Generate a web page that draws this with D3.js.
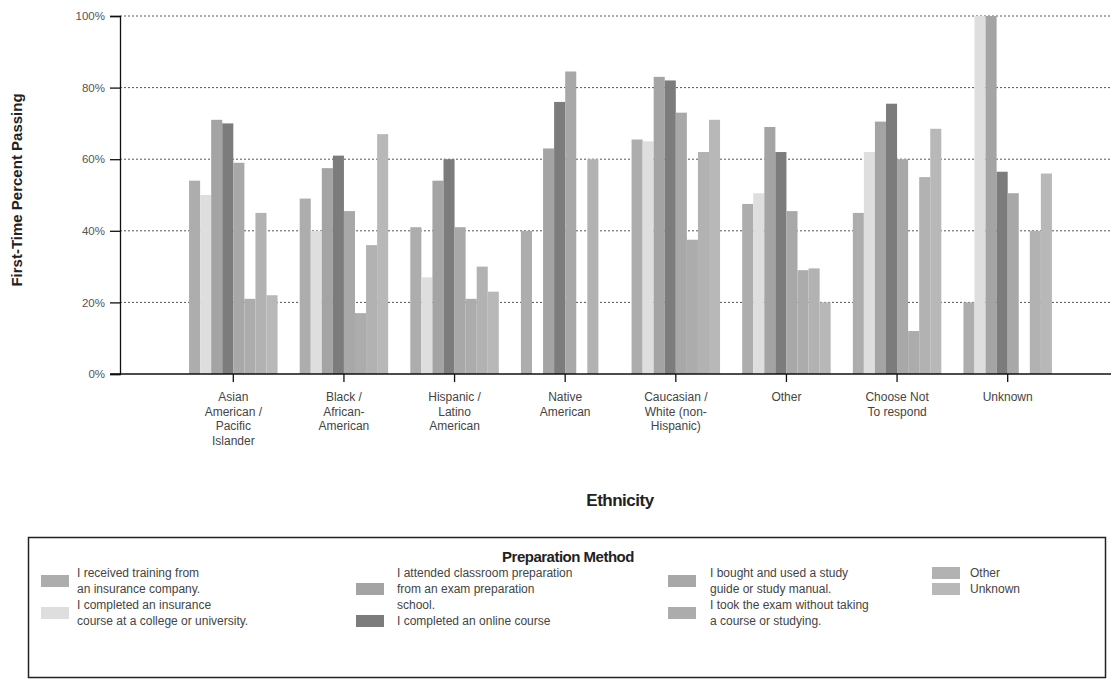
<!DOCTYPE html>
<html>
<head>
<meta charset="utf-8">
<script src="https://cdn.jsdelivr.net/npm/d3@7/dist/d3.min.js"></script>
<style>
  html, body { margin: 0; padding: 0; background: #fff; }
  svg { display: block; font-family: "Liberation Sans", Arial, sans-serif; }
</style>
</head>
<body>
<svg id="chart" width="1111" height="680"></svg>
<script>
// ---- data ----
const categories = [
  ["Asian", "American /", "Pacific", "Islander"],
  ["Black /", "African-", "American"],
  ["Hispanic /", "Latino", "American"],
  ["Native", "American"],
  ["Caucasian /", "White (non-", "Hispanic)"],
  ["Other"],
  ["Choose Not", "To respond"],
  ["Unknown"]
];
const seriesNames = [
  "I received training from an insurance company.",
  "I completed an insurance course at a college or university.",
  "I attended classroom preparation from an exam preparation school.",
  "I completed an online course",
  "I bought and used a study guide or study manual.",
  "I took the exam without taking a course or studying.",
  "Other",
  "Unknown"
];
const seriesTraining   = [54, 49, 41, 40, 65.5, 47.5, 45, 20];
const seriesCollege    = [50, 40, 27, 0, 65, 50.5, 62, 100];
const seriesClassroom  = [71, 57.5, 54, 63, 83, 69, 70.5, 100];
const seriesOnline     = [70, 61, 60, 76, 82, 62, 75.5, 56.5];
const seriesStudyGuide = [59, 45.5, 41, 84.5, 73, 45.5, 60, 50.5];
const seriesNoCourse   = [21, 17, 21, 0, 37.5, 29, 12, 0];
const seriesOther      = [45, 36, 30, 60, 62, 29.5, 55, 40];
const seriesUnknown    = [22, 67, 23, 0, 71, 20, 68.5, 56];
const yTicks = [0, 20, 40, 60, 80, 100];

const allSeries = [seriesTraining, seriesCollege, seriesClassroom, seriesOnline,
                   seriesStudyGuide, seriesNoCourse, seriesOther, seriesUnknown];
const colors = ["#adadad", "#dedede", "#a4a4a4", "#7c7c7c", "#a8a8a8", "#acacac", "#b2b2b2", "#b8b8b8"];

// ---- layout ----
const svg = d3.select("#chart");
const catKeys = categories.map(c => c.join(" "));
const x0 = d3.scaleBand().domain(catKeys).range([178, 1063]).paddingInner(0.2).paddingOuter(0.1);
const x1 = d3.scaleBand().domain(d3.range(allSeries.length)).range([0, x0.bandwidth()]);
const y = d3.scaleLinear().domain([0, 100]).range([374, 16]);
const plotLeft = 120, plotRight = 1111;

// gridlines
svg.append("g").selectAll("line").data(yTicks.filter(d => d > 0)).join("line")
  .attr("x1", plotLeft).attr("x2", plotRight)
  .attr("y1", d => y(d)).attr("y2", d => y(d))
  .attr("stroke", "#555").attr("stroke-width", 1).attr("stroke-dasharray", "2,2");

// bars
const groups = svg.append("g").selectAll("g").data(catKeys).join("g")
  .attr("transform", d => `translate(${x0(d)},0)`);
groups.selectAll("rect")
  .data((d, ci) => allSeries.map((s, si) => ({ si, v: s[ci] })))
  .join("rect")
  .attr("x", d => x1(d.si))
  .attr("width", x1.bandwidth())
  .attr("y", d => y(d.v))
  .attr("height", d => y(0) - y(d.v))
  .attr("fill", d => colors[d.si]);

// y axis
const yAxis = d3.axisLeft(y).tickValues(yTicks).tickFormat(d => d + "%").tickSize(10).tickPadding(5);
const yg = svg.append("g").attr("transform", `translate(${plotLeft},0)`).call(yAxis);
yg.select(".domain").attr("stroke", "#111").attr("stroke-width", 1.3);
yg.selectAll(".tick line").attr("stroke", "#111").attr("stroke-width", 1.3);
yg.selectAll(".tick text").attr("fill", "#555").attr("font-size", 11.5).attr("font-family", "Liberation Sans, Arial, sans-serif");

// x axis
const xg = svg.append("g");
xg.append("line").attr("x1", 110).attr("x2", plotRight).attr("y1", y(0)).attr("y2", y(0))
  .attr("stroke", "#111").attr("stroke-width", 1.5);
xg.selectAll("line.tk").data(catKeys).join("line").attr("class", "tk")
  .attr("x1", d => x0(d) + x0.bandwidth() / 2).attr("x2", d => x0(d) + x0.bandwidth() / 2)
  .attr("y1", y(0)).attr("y2", y(0) + 8).attr("stroke", "#111").attr("stroke-width", 1.3);
const labels = xg.selectAll("text.cat").data(categories).join("text").attr("class", "cat")
  .attr("x", (d, i) => x0(catKeys[i]) + x0.bandwidth() / 2)
  .attr("y", 401)
  .attr("text-anchor", "middle").attr("font-size", 12).attr("fill", "#444");
labels.selectAll("tspan").data(d => d).join("tspan")
  .attr("x", function() { return d3.select(this.parentNode).attr("x"); })
  .attr("dy", (d, i) => i === 0 ? 0 : 14.5)
  .text(d => d);

// axis titles
svg.append("text").attr("transform", "translate(22,190) rotate(-90)")
  .attr("text-anchor", "middle").attr("font-size", 15).attr("font-weight", "bold").attr("fill", "#222")
  .text("First-Time Percent Passing");
svg.append("text").attr("x", 620).attr("y", 506)
  .attr("text-anchor", "middle").attr("font-size", 17).attr("font-weight", "bold").attr("fill", "#222")
  .attr("letter-spacing", -0.5)
  .text("Ethnicity");

// legend
const lg = svg.append("g");
lg.append("rect").attr("x", 28.5).attr("y", 537.5).attr("width", 1077).attr("height", 140)
  .attr("fill", "none").attr("stroke", "#222").attr("stroke-width", 1.5);
lg.append("text").attr("x", 568).attr("y", 562).attr("text-anchor", "middle")
  .attr("font-size", 15).attr("font-weight", "bold").attr("fill", "#222").attr("letter-spacing", -0.5)
  .text("Preparation Method");

const lineY = [577, 593, 609, 625];
const legendItems = [
  { si: 0, col: 0, lines: ["I received training from", "an insurance company."], start: 0 },
  { si: 1, col: 0, lines: ["I completed an insurance", "course at a college or university."], start: 2 },
  { si: 2, col: 1, lines: ["I attended classroom preparation", "from an exam preparation", "school."], start: 0 },
  { si: 3, col: 1, lines: ["I completed an online course"], start: 3 },
  { si: 4, col: 2, lines: ["I bought and used a study", "guide or study manual."], start: 0 },
  { si: 5, col: 2, lines: ["I took the exam without taking", "a course or studying."], start: 2 },
  { si: 6, col: 3, lines: ["Other"], start: 0 },
  { si: 7, col: 3, lines: ["Unknown"], start: 1 }
];
const colSwatchX = [41, 356, 668, 932];
const colTextX = [77, 397, 710, 970];
legendItems.forEach(it => {
  const ys = it.lines.map((l, k) => lineY[it.start + k]);
  const mid = (ys[0] + ys[ys.length - 1]) / 2;
  lg.append("rect").attr("x", colSwatchX[it.col]).attr("y", mid - 10).attr("width", 28).attr("height", 12)
    .attr("fill", colors[it.si]);
  it.lines.forEach((l, k) => {
    lg.append("text").attr("x", colTextX[it.col]).attr("y", ys[k])
      .attr("font-size", 12).attr("fill", "#444").text(l);
  });
});
</script>
</body>
</html>
